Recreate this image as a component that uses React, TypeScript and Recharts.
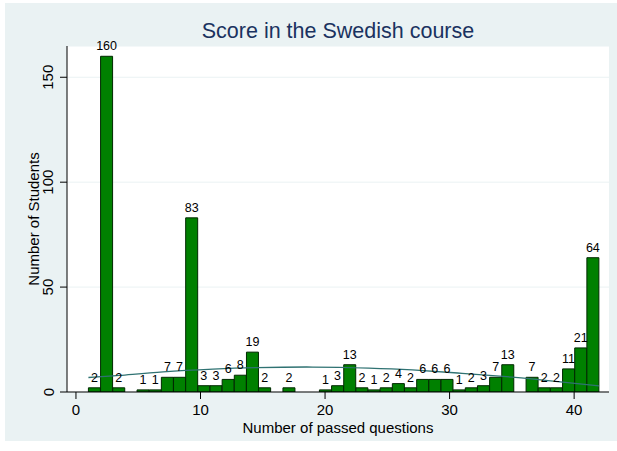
import React from "react";
import {
  ComposedChart,
  Bar,
  Line,
  XAxis,
  YAxis,
  CartesianGrid,
  LabelList,
} from "recharts";

// number of passed questions (1..42) and how many students got each
const questions = Array.from({ length: 42 }, (_, i) => i + 1);
const students = [
  2, 160, 2, 0, 1, 1, 7, 7, 83, 3, 3, 6, 8, 19, 2, 0, 2, 0, 0, 1, 3, 13, 2, 1,
  2, 4, 2, 6, 6, 6, 1, 2, 3, 7, 13, 0, 7, 2, 2, 11, 21, 64,
];

// normal curve
const curveAt = [1, 3.5, 7, 11, 14.5, 19, 23.5, 27, 31, 35, 38.5, 42];
const curveHeight = [6.9, 7.9, 9.6, 10.9, 11.6, 11.9, 11.4, 10.5, 8.9, 7.1, 5.1, 2.9];

const xTicks = [0, 10, 20, 30, 40];
const yTicks = [0, 50, 100, 150];

// stata: 42 bins from 1 to 42
const binWidth = (42 - 1) / questions.length;
const bins = questions.map((q, i) => ({
  x: 1 + (q - 0.5) * binWidth,
  count: students[i],
}));
const curve = curveAt.map((cx, i) => ({ cx, cy: curveHeight[i] }));

const xDomain: [number, number] = [-0.72, 42.8];
const yDomain: [number, number] = [0, 164.9];

const FONT = "'Liberation Sans', Arial, Helvetica, sans-serif";

const YTick = (props: any) => {
  const { x, y, payload } = props;
  const cx = x - 10;
  return (
    <text
      x={cx}
      y={y}
      transform={`rotate(-90 ${cx} ${y})`}
      textAnchor="middle"
      dominantBaseline="central"
      fontSize={15}
      fill="#000"
    >
      {payload.value}
    </text>
  );
};

const YTitle = (props: any) => {
  const vb = props.viewBox || {};
  const cx = 28;
  const cy = vb.height ? vb.y + vb.height / 2 : 216;
  return (
    <text
      x={cx}
      y={cy}
      transform={`rotate(-90 ${cx} ${cy})`}
      textAnchor="middle"
      dominantBaseline="central"
      fontSize={15}
      fill="#000"
    >
      Number of Students
    </text>
  );
};

export default function App() {
  return (
    <div
      style={{
        position: "absolute",
        left: 0,
        top: 0,
        width: 617,
        height: 451,
        background: "#fff",
        fontFamily: FONT,
      }}
    >
      <div
        style={{
          position: "absolute",
          left: 5,
          top: 3,
          width: 612,
          height: 438,
          background: "#eaf2f3",
        }}
      >
        <div
          style={{
            position: "absolute",
            left: 62,
            top: 15,
            width: 542,
            lineHeight: "26px",
            textAlign: "center",
            fontSize: 21.5,
            color: "#1a3260",
          }}
        >
          Score in the Swedish course
        </div>
        <ComposedChart
          width={612}
          height={438}
          data={bins}
          margin={{ top: 43, right: 8, bottom: 4, left: 2 }}
          barCategoryGap={0}
          barGap={0}
          style={{ fontFamily: FONT }}
        >
          <CartesianGrid
            vertical={false}
            stroke="#eaf2f3"
            fill="#ffffff"
            fillOpacity={1}
          />
          <XAxis
            dataKey="x"
            type="number"
            domain={xDomain}
            ticks={xTicks}
            allowDataOverflow
            height={45}
            tickSize={7}
            tickMargin={5}
            axisLine={{ stroke: "#000" }}
            tickLine={{ stroke: "#000" }}
            tick={{ fill: "#000", fontSize: 15 }}
            label={{
              value: "Number of passed questions",
              position: "insideBottom",
              offset: 4,
              fill: "#000",
              fontSize: 15,
            }}
          />
          <XAxis
            xAxisId="curve"
            dataKey="cx"
            type="number"
            domain={xDomain}
            allowDataOverflow
            hide
          />
          <YAxis
            type="number"
            domain={yDomain}
            ticks={yTicks}
            allowDataOverflow
            width={60}
            tickSize={7}
            axisLine={{ stroke: "#000" }}
            tickLine={{ stroke: "#000" }}
            tick={<YTick />}
            label={<YTitle />}
          />
          <Bar
            dataKey="count"
            fill="#008000"
            stroke="#002800"
            strokeWidth={1}
            isAnimationActive={false}
          >
            <LabelList
              dataKey="count"
              position="top"
              offset={6}
              fontSize={12.5}
              fill="#000"
              formatter={(v: any) => (v ? v : "")}
            />
          </Bar>
          <Line
            xAxisId="curve"
            data={curve}
            dataKey="cy"
            type="natural"
            stroke="#2f7272"
            strokeWidth={1.3}
            dot={false}
            isAnimationActive={false}
          />
        </ComposedChart>
      </div>
    </div>
  );
}
